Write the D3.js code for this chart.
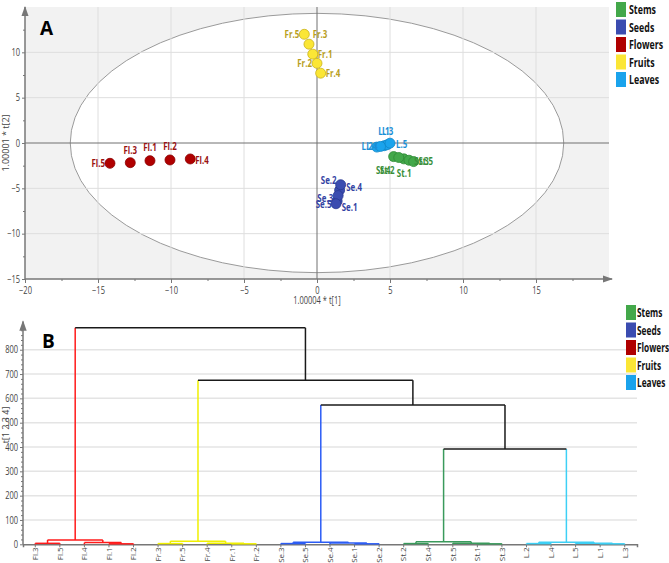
<!DOCTYPE html>
<html>
<head>
<meta charset="utf-8">
<script src="https://cdn.jsdelivr.net/npm/d3@7"></script>
<style>
  body { margin: 0; background: #fff; }
  text { font-family: "Open Sans", "DejaVu Sans", sans-serif; }
</style>
</head>
<body>
<script>
// ---- data ----
var groups = ["Stems", "Seeds", "Flowers", "Fruits", "Leaves"];
var prefixes = ["St", "Se", "Fl", "Fr", "L"];

// score plot (t[1], t[2])
var sampleNames = ["Fl.1","Fl.2","Fl.3","Fl.4","Fl.5",
                   "Fr.1","Fr.2","Fr.3","Fr.4","Fr.5",
                   "Se.1","Se.2","Se.3","Se.4","Se.5",
                   "St.1","St.2","St.3","St.4","St.5",
                   "L.1","L.2","L.3","L.4","L.5"];
var t1Values = [-11.44,-10.07,-12.79,-8.68,-14.18,
                -0.29,0.0,-0.55,0.25,-0.87,
                1.38,1.55,1.45,1.62,1.3,
                5.95,5.25,6.3,5.6,6.62,
                4.6,4.1,4.8,4.35,5.0];
var t2Values = [-1.95,-1.87,-2.17,-1.76,-2.24,
                9.8,8.79,10.9,7.7,11.99,
                -6.4,-5.2,-5.8,-4.6,-6.7,
                -1.75,-1.5,-1.9,-1.6,-2.05,
                -0.3,-0.45,-0.2,-0.38,-0.02];
var xTicksA = [-20,-15,-10,-5,0,5,10,15];
var yTicksA = [-15,-10,-5,0,5,10];

// dendrogram
var dendroLeaves = ["Fl.3","Fl.5","Fl.4","Fl.1","Fl.2",
                    "Fr.3","Fr.5","Fr.4","Fr.1","Fr.2",
                    "Se.3","Se.5","Se.4","Se.1","Se.2",
                    "St.2","St.4","St.5","St.1","St.3",
                    "L.2","L.4","L.5","L.1","L.3"];
// [id, left, right, height]
var merges = [
  ["m1","Fl.3","Fl.5",4], ["m2","Fl.1","Fl.2",2], ["m3","Fl.4","m2",7], ["FL","m1","m3",18],
  ["m4","Fr.3","Fr.5",3], ["m5","Fr.1","Fr.2",2], ["m6","Fr.4","m5",4], ["FR","m4","m6",13],
  ["m7","Se.3","Se.5",3], ["m8","Se.1","Se.2",2], ["m9","Se.4","m8",5], ["SE","m7","m9",8],
  ["m10","St.2","St.4",3], ["m11","St.1","St.3",2], ["m12","St.5","m11",4], ["ST","m10","m12",10],
  ["m13","L.2","L.4",3], ["m14","L.1","L.3",2], ["m15","L.5","m14",4], ["LE","m13","m15",8],
  ["m16","ST","LE",392], ["m17","SE","m16",573], ["m18","FR","m17",674], ["m19","FL","m18",890]
];
var yTicksB = [0,100,200,300,400,500,600,700,800];

// ---- styles ----
var legendColor = {Stems:"#43a84a", Seeds:"#3b4cb0", Flowers:"#b00000", Fruits:"#fbe635", Leaves:"#1aa3ec"};
var pointStroke = {Stems:"#2f8a35", Seeds:"#2a3990", Flowers:"#8a0000", Fruits:"#c9b21c", Leaves:"#0f86c8"};
var labelColor = {Stems:"#3a8f3a", Seeds:"#3343a3", Flowers:"#9a1212", Fruits:"#b89e22", Leaves:"#1b8fd6"};
var treeColor = {Stems:"#3a9a5c", Seeds:"#2b5cf5", Flowers:"#ff1a1a", Fruits:"#f0f000", Leaves:"#3dd0f5"};

// label placement around points: [dx, dy, anchor]
var labelPos = {
  "Fl.1":[0,-13.7,"middle"], "Fl.2":[0,-14,"middle"], "Fl.3":[0,-12.7,"middle"], "Fl.4":[5,1,"start"], "Fl.5":[-5,0,"end"],
  "Fr.1":[5,0,"start"], "Fr.2":[-5,0,"end"], "Fr.3":[3.7,-10,"start"], "Fr.4":[5,0,"start"], "Fr.5":[-5,0,"end"],
  "Se.1":[4.6,6,"start"], "Se.2":[-3,-10,"end"], "Se.3":[-5,3,"end"], "Se.4":[5.5,2,"start"], "Se.5":[-4.5,0,"end"],
  "St.1":[-7,14.4,"start"], "St.2":[-13.7,13.4,"start"], "St.3":[5.3,1,"start"], "St.4":[-22.8,12.5,"start"], "St.5":[4.8,-0.6,"start"],
  "L.1":[-6,-15,"start"], "L.2":[-4,-1,"end"], "L.3":[-5,-14,"start"], "L.4":[-3,-0.6,"end"], "L.5":[6,1,"start"]
};

function groupOf(name) {
  return groups[prefixes.indexOf(name.split(".")[0])];
}

var W = 669, H = 563;
var svg = d3.select("body").append("svg").attr("width", W).attr("height", H);

var defs = svg.append("defs");
defs.append("marker").attr("id", "arrow")
  .attr("viewBox", "0 0 10 10").attr("refX", 9).attr("refY", 5)
  .attr("markerWidth", 7).attr("markerHeight", 7).attr("orient", "auto")
  .append("path").attr("d", "M0,1.5L10,5L0,8.5Z").attr("fill", "#777");

// ================= Panel A =================
var xA = d3.scaleLinear().domain([-20, 20]).range([25, 609]);
var yA = d3.scaleLinear().domain([-15, 15]).range([279, 7]);

var gA = svg.append("g");

gA.append("rect")
  .attr("x", xA(-20)).attr("y", yA(15))
  .attr("width", xA(20) - xA(-20)).attr("height", yA(-15) - yA(15))
  .attr("fill", "#f2f2f2");

// Hotelling ellipse
gA.append("ellipse")
  .attr("cx", xA(0)).attr("cy", yA(0))
  .attr("rx", xA(16.9) - xA(0)).attr("ry", yA(0) - yA(14.3))
  .attr("fill", "#fff").attr("stroke", "#9a9a9a").attr("stroke-width", 1);

// grid
gA.selectAll(".vgrid").data(xTicksA.filter(d => d !== 0 && d !== -20))
  .enter().append("line")
  .attr("x1", d => xA(d)).attr("x2", d => xA(d))
  .attr("y1", yA(15)).attr("y2", yA(-15))
  .attr("stroke", "#dedede");
gA.selectAll(".hgrid").data(yTicksA.filter(d => d !== 0 && d !== -15))
  .enter().append("line")
  .attr("x1", xA(-20)).attr("x2", xA(20))
  .attr("y1", d => yA(d)).attr("y2", d => yA(d))
  .attr("stroke", "#dedede");

// zero lines
gA.append("line").attr("x1", xA(-20)).attr("x2", xA(20))
  .attr("y1", yA(0)).attr("y2", yA(0)).attr("stroke", "#707070");
gA.append("line").attr("x1", xA(0)).attr("x2", xA(0))
  .attr("y1", yA(15)).attr("y2", yA(-15)).attr("stroke", "#707070");

// axes
var xAxisA = gA.append("g")
  .attr("transform", `translate(0, ${yA(-15)})`)
  .call(d3.axisBottom(xA).tickValues(xTicksA).tickSize(4).tickPadding(4));
xAxisA.select(".domain").remove();
gA.append("g").attr("transform", `translate(0, ${yA(-15)})`)
  .call(d3.axisBottom(xA).tickValues(d3.range(-17.5, 20, 5)).tickSize(2).tickFormat(""))
  .select(".domain").remove();
gA.append("line").attr("x1", xA(-20)).attr("x2", xA(20) + 3)
  .attr("y1", yA(-15)).attr("y2", yA(-15))
  .attr("stroke", "#777").attr("stroke-width", 1.5).attr("marker-end", "url(#arrow)");

var yAxisA = gA.append("g")
  .attr("transform", `translate(${xA(-20)}, 0)`)
  .call(d3.axisLeft(yA).tickValues(yTicksA).tickSize(3).tickPadding(2));
yAxisA.select(".domain").remove();
gA.append("g").attr("transform", `translate(${xA(-20)}, 0)`)
  .call(d3.axisLeft(yA).tickValues(d3.range(-12.5, 15, 5)).tickSize(2).tickFormat(""))
  .select(".domain").remove();
gA.append("line").attr("x1", xA(-20)).attr("x2", xA(-20))
  .attr("y1", yA(-15)).attr("y2", yA(15))
  .attr("stroke", "#777").attr("stroke-width", 1.5).attr("marker-end", "url(#arrow)");

gA.selectAll(".tick line").attr("stroke", "#777");
gA.selectAll(".tick text")
  .attr("fill", "#444").attr("font-size", 10)
  .attr("transform", "scale(0.75,1)")
  .attr("x", function() { return (+d3.select(this).attr("x") || 0) / 0.75; });

gA.append("text")
  .attr("transform", `translate(${xA(0)}, 304) scale(0.75,1)`)
  .attr("text-anchor", "middle").attr("font-size", 10).attr("fill", "#444")
  .text("1.00004 * t[1]");
gA.append("text")
  .attr("transform", `translate(9, ${yA(0)}) rotate(-90)`)
  .attr("text-anchor", "middle").attr("font-size", 9).attr("fill", "#444")
  .text("1.00001 * t[2]");

// points
var pts = sampleNames.map((n, i) => ({name: n, t1: t1Values[i], t2: t2Values[i], group: groupOf(n)}));
gA.selectAll(".pt").data(pts).enter().append("circle")
  .attr("cx", d => xA(d.t1)).attr("cy", d => yA(d.t2)).attr("r", 5)
  .attr("fill", d => legendColor[d.group])
  .attr("stroke", d => pointStroke[d.group]).attr("stroke-width", 0.8);

gA.selectAll(".lbl").data(pts).enter().append("text")
  .attr("transform", d => `translate(${xA(d.t1) + labelPos[d.name][0]}, ${yA(d.t2) + labelPos[d.name][1]}) scale(0.72,1)`)
  .attr("text-anchor", d => labelPos[d.name][2])
  .attr("dy", "0.35em")
  .attr("font-size", 11).attr("font-weight", "bold")
  .attr("fill", d => labelColor[d.group])
  .text(d => d.name);

gA.append("text").attr("x", 40).attr("y", 35)
  .attr("font-family", "Liberation Serif, Times New Roman, serif")
  .attr("font-size", 19).attr("font-weight", "bold").text("A");

function legend(x, y, gap, squeeze) {
  var lg = svg.append("g").attr("transform", `translate(${x}, ${y})`);
  groups.forEach((gname, i) => {
    lg.append("rect").attr("x", 0).attr("y", i * 17.5).attr("width", 10).attr("height", 15)
      .attr("fill", legendColor[gname]);
    lg.append("text")
      .attr("transform", `translate(${gap}, ${i * 17.5 + 12}) scale(${squeeze},1)`)
      .attr("font-size", 13).attr("font-weight", "bold").attr("fill", "#111")
      .text(gname);
  });
}
legend(616, 2, 13, 0.68);

// ================= Panel B =================
var xB = d3.scaleBand().domain(dendroLeaves).range([23, 637]).padding(0);
var yB = d3.scaleLinear().domain([0, 900]).range([544.3, 325.4]);

var gB = svg.append("g");

gB.selectAll(".bgrid").data(yTicksB.filter(d => d > 0))
  .enter().append("line")
  .attr("x1", 23).attr("x2", 637)
  .attr("y1", d => yB(d)).attr("y2", d => yB(d))
  .attr("stroke", "#e4e4e4").attr("stroke-width", 1.5);

var yAxisB = gB.append("g").attr("transform", "translate(23, 0)")
  .call(d3.axisLeft(yB).tickValues(yTicksB).tickSize(3).tickPadding(2));
yAxisB.select(".domain").remove();
gB.append("g").attr("transform", "translate(23, 0)")
  .call(d3.axisLeft(yB).tickValues(d3.range(20, 900, 20).filter(d => d % 100 !== 0)).tickSize(2).tickFormat(""))
  .select(".domain").remove();
gB.append("line").attr("x1", 23).attr("x2", 23)
  .attr("y1", yB(0)).attr("y2", yB(900) - 4)
  .attr("stroke", "#777").attr("stroke-width", 1.5).attr("marker-end", "url(#arrow)");

var xAxisB = gB.append("g").attr("transform", `translate(0, ${yB(0)})`)
  .call(d3.axisBottom(xB).tickSize(3).tickPadding(4));
xAxisB.select(".domain").attr("stroke", "#777").attr("stroke-width", 1.5);
xAxisB.selectAll(".tick text")
  .attr("transform", "rotate(-90)")
  .attr("text-anchor", "end")
  .attr("x", -3).attr("y", 0).attr("dy", "0.35em")
  .attr("font-size", 8);

gB.selectAll(".tick line").attr("stroke", "#777");
yAxisB.selectAll(".tick text")
  .attr("fill", "#444").attr("font-size", 10)
  .attr("transform", "scale(0.75,1)")
  .attr("x", function() { return (+d3.select(this).attr("x") || 0) / 0.75; });
xAxisB.selectAll(".tick text").attr("fill", "#444");

gB.append("text")
  .attr("transform", `translate(9, 425) rotate(-90)`)
  .attr("text-anchor", "middle").attr("font-size", 9).attr("fill", "#444")
  .text("t[1 2 3 4]");

// build the tree
var nodes = {};
dendroLeaves.forEach(n => {
  nodes[n] = {x: xB(n) + xB.bandwidth() / 2, h: 0, group: groupOf(n)};
});
merges.forEach(m => {
  var a = nodes[m[1]], b = nodes[m[2]];
  nodes[m[0]] = {x: (a.x + b.x) / 2, h: m[3], group: (a.group && a.group === b.group) ? a.group : null, a: a, b: b};
});
function col(node) { return node.group ? treeColor[node.group] : "#1a1a1a"; }

var links = gB.append("g").attr("fill", "none").attr("stroke-width", 1.5);
merges.forEach(m => {
  var p = nodes[m[0]];
  [p.a, p.b].forEach(c => {
    links.append("line")
      .attr("x1", c.x).attr("x2", c.x)
      .attr("y1", yB(c.h)).attr("y2", yB(p.h))
      .attr("stroke", col(c));
  });
  links.append("line")
    .attr("x1", p.a.x).attr("x2", p.b.x)
    .attr("y1", yB(p.h)).attr("y2", yB(p.h))
    .attr("stroke", col(p));
});

gB.append("text").attr("x", 42).attr("y", 348)
  .attr("font-family", "Liberation Serif, Times New Roman, serif")
  .attr("font-size", 19).attr("font-weight", "bold").text("B");

legend(626, 305, 11, 0.64);
</script>
</body>
</html>
